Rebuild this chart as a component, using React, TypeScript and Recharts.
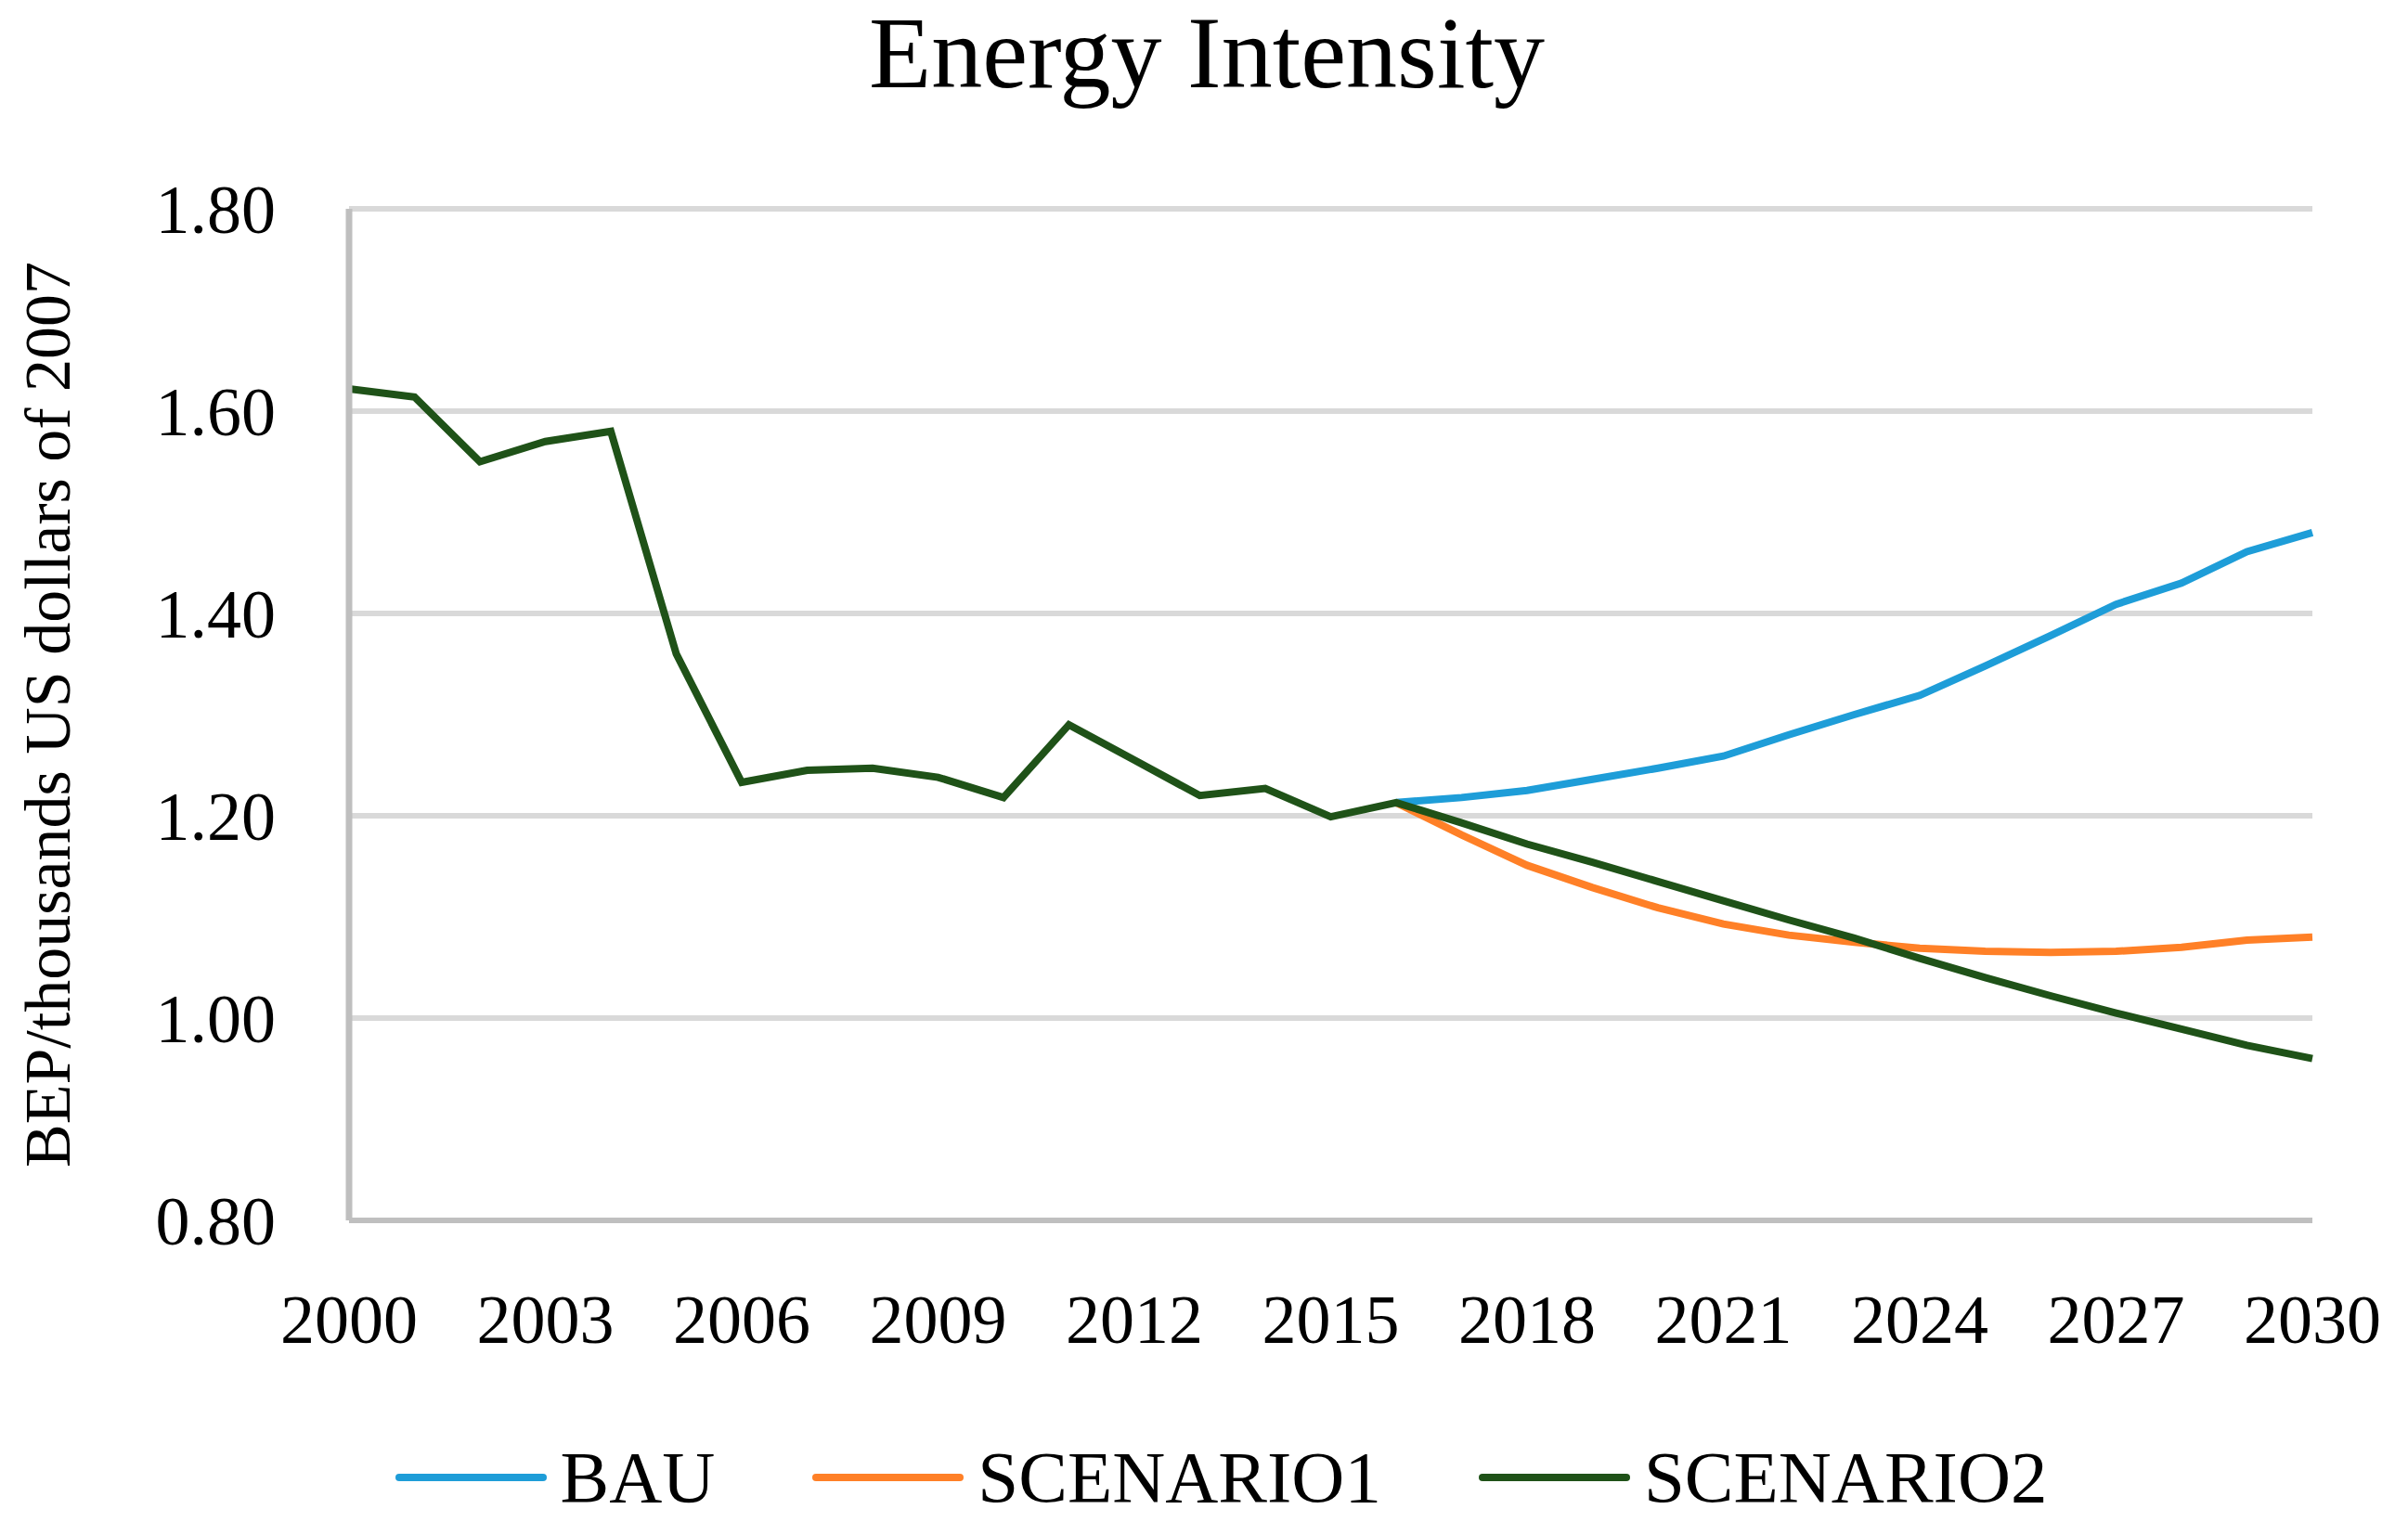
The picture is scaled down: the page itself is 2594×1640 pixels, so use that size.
import React from "react"
import { CartesianGrid, Legend, Line, LineChart, XAxis, YAxis } from "recharts"

const years = [
  2000, 2001, 2002, 2003, 2004, 2005, 2006, 2007, 2008, 2009, 2010, 2011, 2012, 2013, 2014, 2015,
  2016, 2017, 2018, 2019, 2020, 2021, 2022, 2023, 2024, 2025, 2026, 2027, 2028, 2029, 2030,
]

// BAU and SCENARIO1 only start at 2016
const bau = [
  null, null, null, null, null, null, null, null, null, null, null, null, null, null, null, null,
  1.213, 1.218, 1.225, 1.236, 1.247, 1.259, 1.28, 1.3, 1.319, 1.348, 1.378, 1.409, 1.43, 1.461, 1.48,
]

const scenario1 = [
  null, null, null, null, null, null, null, null, null, null, null, null, null, null, null, null,
  1.213, 1.181, 1.151, 1.129, 1.109, 1.093, 1.082, 1.075, 1.069, 1.066, 1.065, 1.066, 1.07, 1.077, 1.08,
]

const scenario2 = [
  1.622, 1.614, 1.55, 1.57, 1.58, 1.36, 1.233, 1.245, 1.247, 1.238, 1.218, 1.29, 1.255, 1.22, 1.227, 1.199,
  1.213, 1.193, 1.172, 1.154, 1.135, 1.116, 1.097, 1.079, 1.059, 1.04, 1.022, 1.005, 0.989, 0.973, 0.96,
]

const xTicks = [2000, 2003, 2006, 2009, 2012, 2015, 2018, 2021, 2024, 2027, 2030]
const yTicks = [0.8, 1.0, 1.2, 1.4, 1.6, 1.8]

const FONT = "'Liberation Serif', 'Times New Roman', serif"

const data = years.map((year, i) => ({
  year,
  BAU: bau[i],
  SCENARIO1: scenario1[i],
  SCENARIO2: scenario2[i],
}))

const LegendContent = ({ payload }: any) => (
  <div
    style={{
      display: "flex",
      justifyContent: "center",
      alignItems: "center",
      height: 80,
      paddingLeft: 140,
      fontFamily: FONT,
      fontSize: 79,
      color: "#000",
    }}
  >
    {(payload || []).map((entry: any, i: number) => (
      <div key={entry.value} style={{ display: "flex", alignItems: "center", marginLeft: i === 0 ? 0 : 105 }}>
        <div style={{ width: 163, height: 8, borderRadius: 4, background: entry.color, marginRight: 15 }} />
        <span>{entry.value}</span>
      </div>
    ))}
  </div>
)

export default function App() {
  return (
    <div style={{ position: "relative", width: 2594, height: 1640, background: "#fff" }}>
      <style>{`body{margin:0}`}</style>
      <div
        style={{
          position: "absolute",
          top: 2,
          left: 0,
          width: 2600,
          textAlign: "center",
          fontFamily: FONT,
          fontSize: 110,
          lineHeight: 1,
          color: "#000",
        }}
      >
        Energy Intensity
      </div>
      <LineChart width={2594} height={1640} data={data} margin={{ top: 225, right: 103, left: 0, bottom: 0 }}>
        <CartesianGrid vertical={false} stroke="#d9d9d9" strokeWidth={6} />
        <XAxis
          type="number"
          dataKey="year"
          domain={[2000, 2030]}
          ticks={xTicks}
          height={245}
          tickLine={false}
          tickSize={0}
          tickMargin={79}
          axisLine={{ stroke: "#bfbfbf", strokeWidth: 6 }}
          tick={{ fontSize: 74, fill: "#000", fontFamily: FONT }}
        />
        <YAxis
          domain={[0.8, 1.8]}
          ticks={yTicks}
          width={376}
          tickLine={false}
          tickSize={0}
          tickMargin={79}
          axisLine={{ stroke: "#bfbfbf", strokeWidth: 7 }}
          tickFormatter={(v: number) => v.toFixed(2)}
          tick={{ fontSize: 74, fill: "#000", fontFamily: FONT }}
          label={{
            value: "BEP/thousands US dollars of 2007",
            angle: -90,
            position: "insideLeft",
            offset: 50,
            style: { textAnchor: "middle", fontSize: 70, fill: "#000", fontFamily: FONT },
          }}
        />
        <Legend verticalAlign="bottom" wrapperStyle={{ bottom: 8 }} content={<LegendContent />} />
        <Line dataKey="BAU" stroke="#1e9dd8" strokeWidth={8} dot={false} isAnimationActive={false} />
        <Line dataKey="SCENARIO1" stroke="#ff8027" strokeWidth={8} dot={false} isAnimationActive={false} />
        <Line dataKey="SCENARIO2" stroke="#1f5218" strokeWidth={8} dot={false} isAnimationActive={false} />
      </LineChart>
    </div>
  )
}
